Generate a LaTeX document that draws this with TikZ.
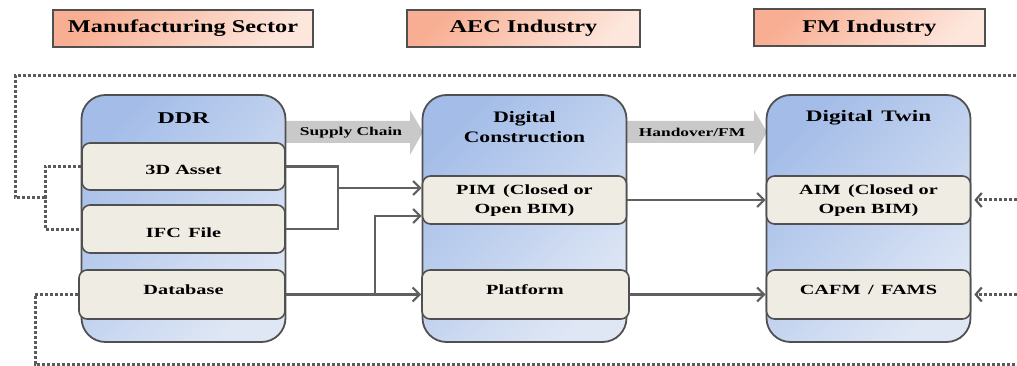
\documentclass[tikz,border=0pt]{standalone}
\usepackage{fontspec}
\setmainfont{Liberation Serif}[FakeStretch=1.45]
\newfontfamily\narrowserif{Liberation Serif}[FakeStretch=1.35]
\usetikzlibrary{arrows.meta,calc}
\definecolor{hdrA}{HTML}{F8AE92}
\definecolor{hdrB}{HTML}{FDE6DC}
\definecolor{colA}{HTML}{A4BDE8}
\definecolor{colB}{HTML}{DFE7F5}
\definecolor{inner}{HTML}{EFECE4}
\definecolor{edge}{HTML}{505050}
\definecolor{conn}{HTML}{606060}
\definecolor{dots}{HTML}{5A5A5A}
\definecolor{blockarrow}{HTML}{C9C9C9}
\tikzset{
  hdr/.style={draw=edge, line width=2pt, top color=hdrA, bottom color=hdrB, shading angle=45,
    minimum height=37pt, font=\narrowserif\bfseries\fontsize{18}{20}\selectfont, inner sep=0pt},
  colbox/.style={draw=edge, line width=1.8pt, top color=colA, bottom color=colB, shading angle=45,
    rounded corners=24pt, minimum width=204pt, minimum height=247pt, inner sep=0pt},
  innerbox/.style={draw=edge, line width=1.6pt, fill=inner, rounded corners=8pt,
    minimum width=204pt, minimum height=48pt, inner sep=0pt},
  boxtxt/.style={font=\bfseries\fontsize{14}{18.5}\selectfont, align=center, inner sep=0pt},
  ttl/.style={font=\bfseries\fontsize{16.5}{19}\selectfont, align=center, inner sep=0pt},
  flow/.style={draw=conn, line width=2.3pt, -{Straight Barb[length=7pt,width=14pt,line width=2.2pt]}},
  link/.style={draw=conn, line width=2.3pt},
  dotline/.style={draw=dots, line width=3pt, dash pattern=on 3pt off 2pt},
  dotflow/.style={dotline, -{Straight Barb[length=6pt,width=14pt,line width=2.2pt]}},
  blk/.style={fill=blockarrow, draw=none},
  blktxt/.style={font=\bfseries\fontsize{12}{13}\selectfont, inner sep=0pt}
}
\begin{document}
\begin{tikzpicture}[x=1pt,y=-1pt]
\useasboundingbox (0,0) rectangle (1017,366);
% headers
\node[hdr, minimum width=260pt] (hm) at (183,28.5) {Manufacturing Sector};
\node[hdr, minimum width=233pt] (ha) at (523.5,28.5) {AEC Industry};
\node[hdr, minimum width=231pt] (hf) at (869.5,28) {FM Industry};
% dotted feedback line corners
\coordinate (tl) at (15,76);
\coordinate (tr) at (1017,76);
\coordinate (bl) at (35,364);
\coordinate (brr) at (1017,364);
% block arrows
\fill[blk] (285,121) -- (410,121) -- (410,110) -- (423,132) -- (410,155) -- (410,143) -- (285,143) -- cycle;
\fill[blk] (627,121) -- (754,121) -- (754,110) -- (767,132) -- (754,155) -- (754,143) -- (627,143) -- cycle;
\node[blktxt] (sc) at (351,133) {Supply Chain};
\node[blktxt] (ho) at (692,132) {Handover/FM};
% columns
\node[colbox] (ddr) at (183.5,218.5) {};
\node[colbox] (dc) at (524.5,218.5) {};
\node[colbox] (dt) at (868.5,218.5) {};
\node[ttl] (ddrt) at (183.5,118) {DDR};
\node[ttl, font=\narrowserif\bfseries\fontsize{16}{19.5}\selectfont] (dct) at (524.5,127) {Digital\\Construction};
\node[ttl, font=\bfseries\fontsize{16}{19}\selectfont] (dtt) at (868.5,118) {Digital \,Twin};
% inner boxes
\node[innerbox, minimum width=203pt, minimum height=47pt] (a3d) at (183.5,166.5) {};
\node[boxtxt] at (183.5,170) {3D Asset};
\node[innerbox, minimum width=203pt, minimum height=48pt] (ifc) at (183.5,229) {};
\node[boxtxt] at (183.5,233) {IFC \,File};
\node[innerbox, minimum width=206pt, minimum height=49pt] (db) at (182,294.5) {};
\node[boxtxt] at (183.5,290) {Database};
\node[innerbox] (pim) at (524.5,200) {};
\node[boxtxt] at (524.5,200.5) {PIM \,(Closed or\\Open BIM)};
\node[innerbox, minimum width=207pt, minimum height=49pt] (plat) at (525.5,294.5) {};
\node[boxtxt] at (525,290) {Platform};
\node[innerbox] (aim) at (868.5,200) {};
\node[boxtxt] at (868.5,200.5) {AIM \,(Closed or\\Open BIM)};
\node[innerbox, minimum width=204pt, minimum height=49pt] (cafm) at (868.5,294.5) {};
\node[boxtxt] at (868.5,290) {CAFM \,/ \,FAMS};
% connectors
\coordinate (brk) at (338,188);
\coordinate (br2) at (375,294.5);
\draw[link] (a3d.east) -| (brk) |- (ifc.east);
\draw[flow] (brk) -- (brk -| pim.west);
\draw[flow] (db.east) -- (plat.west);
\draw[flow] (br2) |- ($(pim.west)+(0,16)$);
\draw[flow] (pim.east) -- (aim.west);
\draw[flow] (plat.east) -- (cafm.west);
% dotted
\coordinate (lb) at (45,198);
\draw[dotline] (a3d.west) -| (lb) |- (ifc.west);
\draw[dotline] (lb) -| (tl) -- (tr);
\draw[dotline] (db.west) -| (bl) -- (brr);
\coordinate (ra) at (1017,200);
\coordinate (rb) at (1017,294.5);
\draw[dotflow] (ra) -- ($(aim.east)+(3,0)$);
\draw[dotflow] (rb) -- ($(cafm.east)+(3,0)$);
\end{tikzpicture}
\end{document}
